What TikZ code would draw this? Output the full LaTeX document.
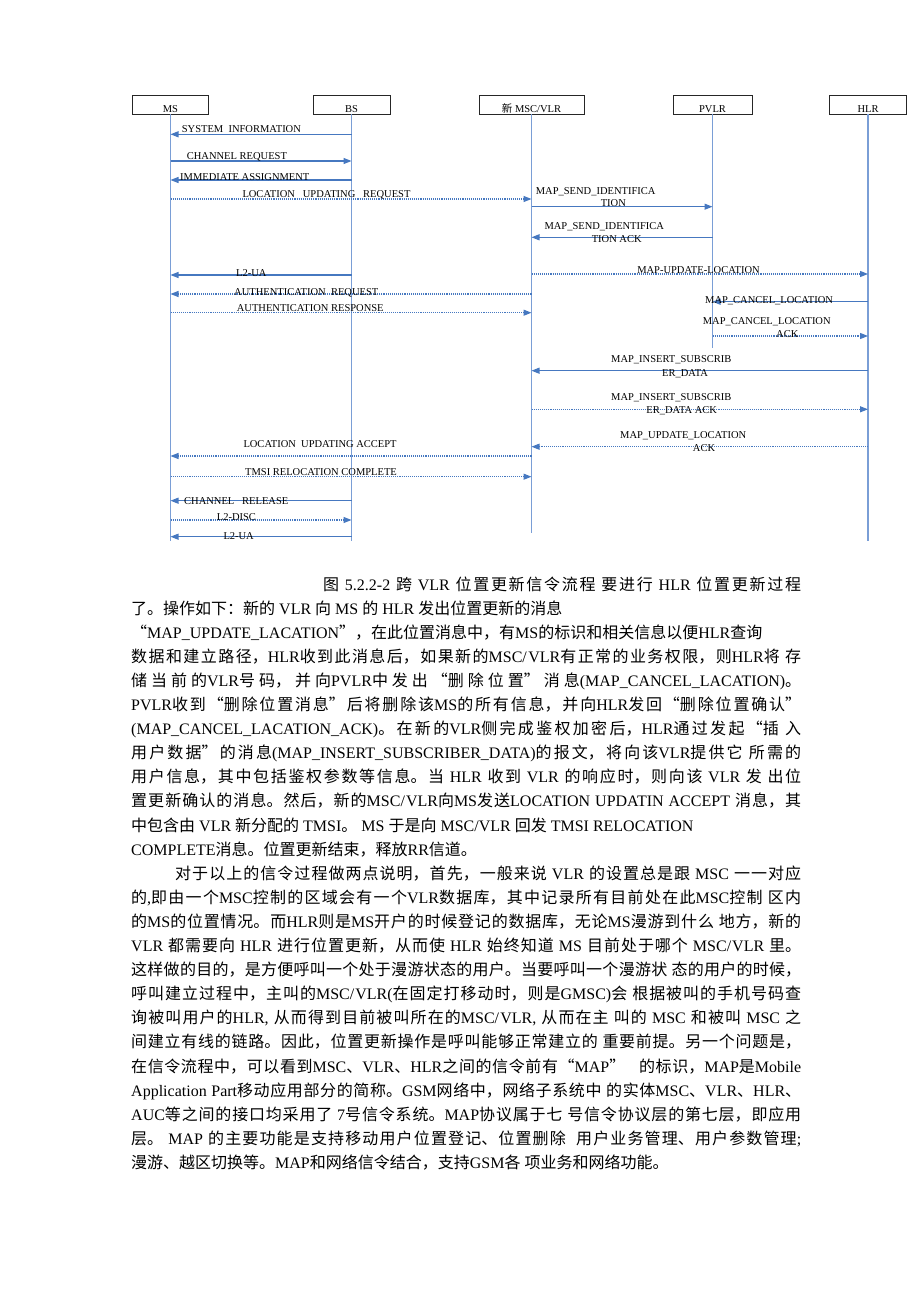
\documentclass[tikz,border=0pt]{standalone}
\usepackage{fontspec}
\setmainfont{Liberation Serif}
\newfontfamily\cjkfont{Noto Sans CJK SC}
\usepackage{tikz}
\usetikzlibrary{arrows.meta}
\usetikzlibrary{positioning}
\usetikzlibrary{calc}
\definecolor{msgline}{HTML}{4678C0}
\definecolor{lifeline}{HTML}{7A9ED6}

% Chinese characters are set in the CJK family
\XeTeXinterchartokenstate=1
\newXeTeXintercharclass\zhclass
\newcount\zhchar
\newcommand{\zhrange}[2]{%
  \zhchar=#1\relax
  \loop
    \XeTeXcharclass\zhchar=\zhclass
    \advance\zhchar by 1\relax
  \ifnum\zhchar<#2\relax\repeat}
\zhrange{"3000}{"3040}
\zhrange{"4E00}{"A000}
\zhrange{"FF00}{"FFF0}
\XeTeXcharclass"201C=\zhclass
\XeTeXcharclass"201D=\zhclass
\XeTeXinterchartoks 0 \zhclass = {\cjkfont}
\XeTeXinterchartoks 4095 \zhclass = {\cjkfont}
\XeTeXinterchartoks \zhclass 0 = {\rmfamily}
\XeTeXinterchartoks \zhclass 4095 = {\rmfamily}
\XeTeXlinebreaklocale "zh"
\XeTeXlinebreakskip=0pt plus 2pt
\tolerance=10000
\hbadness=10000

\begin{document}
\begin{tikzpicture}[x=1pt,y=-1pt,
  head/.style={
    draw=black!85, line width=0.7pt,
    text height=16pt, text depth=0pt,
    inner xsep=0pt, inner ysep=1.5pt,
    font=\fontsize{10.5}{12}\selectfont},
  life/.style={
    draw=lifeline, line width=1.2pt},
  msg/.style={
    draw=msgline, line width=1.1pt,
    -{Triangle[length=8pt,width=6pt]}},
  msgdot/.style={
    msg, densely dotted},
  lbl/.style={
    anchor=base west, inner sep=0pt,
    font=\fontsize{10.5}{12}\selectfont},
  lblc/.style={
    lbl, anchor=base},
  body/.style={
    anchor=base west, inner sep=0pt,
    text width=670pt, align=justify,
    font=\fontsize{16}{24.1}\selectfont},
]
  \useasboundingbox (0,0) rectangle (920,1302);

  \def\headrow{104.5}%

  % Entities
  \node[head, minimum width=76pt]  (ms)   at (170.5,\headrow) {MS};
  \node[head, minimum width=77pt]  (bs)   at (351.5,\headrow) {BS};
  \node[head, minimum width=105pt] (msc)  at (531.5,\headrow) {新 MSC/VLR};
  \node[head, minimum width=79pt]  (pvlr) at (712.5,\headrow) {PVLR};
  \node[head, minimum width=77pt]  (hlr)  at (868,\headrow) {HLR};

  % Lifelines
  \foreach \who/\stop in {ms/541,bs/541,msc/533,pvlr/348,hlr/541} {
    \coordinate (\who-end) at (\who.south |- 0,\stop);
    \draw[life] (\who.south) -- (\who-end);
  }

  % Messages
  \foreach \src/\dst/\yy/\kind in {
      bs/ms/134.3/msg, ms/bs/161/msg, bs/ms/180/msg, ms/msc/199/msgdot,
      msc/pvlr/206.7/msg, pvlr/msc/237.3/msg, msc/hlr/274/msgdot,
      bs/ms/275/msg, msc/ms/294/msgdot, ms/msc/312.7/msgdot,
      hlr/pvlr/301.7/msg, pvlr/hlr/336/msgdot, hlr/msc/370.7/msg,
      msc/hlr/409.3/msgdot, hlr/msc/446.7/msgdot, msc/ms/456/msgdot,
      ms/msc/476.7/msgdot, bs/ms/500.7/msg, ms/bs/520/msgdot,
      bs/ms/536.7/msg} {
    \draw[\kind] (\src |- 0,\yy) -- (\dst |- 0,\yy);
  }

  % Message labels
  \node[lbl] (sysinfo)  at (181.7,132.5) {SYSTEM\ \ INFORMATION};
  \node[lbl] (chreq)    at (186.7,159.2) {CHANNEL REQUEST};
  \node[lbl] (immass)   at (180,180.8)   {IMMEDIATE ASSIGNMENT};
  \node[lbl] (locreq)   at (242.3,197.5) {LOCATION\ \ \ UPDATING\ \ \ REQUEST};
  \node[lbl] (sendid)   at (535.7,194.2) {MAP\_SEND\_IDENTIFICA};
  \node[lblc] (sendidb) at (613.3,206.5) {TION};
  \node[lbl] (sendack)  at (544.3,229.2) {MAP\_SEND\_IDENTIFICA};
  \node[lblc] (sendackb) at (616.7,242.5) {TION ACK};
  \node[lblc] (updloc)  at (698.5,273.5) {MAP-UPDATE-LOCATION};
  \node[lbl] (ua)       at (236,276.5)   {L2-UA};
  \node[lbl] (authreq)  at (234,295.5)   {AUTHENTICATION\ \ REQUEST};
  \node[lbl] (authresp) at (236.7,311.8) {AUTHENTICATION RESPONSE};
  \node[lbl] (cancel)   at (705,303.5)   {MAP\_CANCEL\_LOCATION};
  \node[lbl] (cancack)  at (702.7,324.5) {MAP\_CANCEL\_LOCATION};
  \node[lblc] (cancackb) at (787.3,337.5) {ACK};
  \node[lbl] (insert)   at (611,362.8)   {MAP\_INSERT\_SUBSCRIB};
  \node[lblc] (insertb) at (685,376.2)   {ER\_DATA};
  \node[lbl] (insack)   at (611,400.5)   {MAP\_INSERT\_SUBSCRIB};
  \node[lblc] (insackb) at (681.7,413.5) {ER\_DATA ACK};
  \node[lbl] (updack)   at (620,438.8)   {MAP\_UPDATE\_LOCATION};
  \node[lblc] (updackb) at (704,451.8)   {ACK};
  \node[lbl] (locacc)   at (243.3,447.5) {LOCATION\ \ UPDATING ACCEPT};
  \node[lbl] (tmsi)     at (245,475.2)   {TMSI RELOCATION COMPLETE};
  \node[lbl] (chrel)    at (184,504.2)   {CHANNEL\ \ \ RELEASE};
  \node[lbl] (disc)     at (216.7,520.8) {L2-DISC};
  \node[lbl] (uaend)    at (223.3,539.2) {L2-UA};

  % Caption and text
  \node[body] (text) at (131,590) {%
\hspace*{192pt}图 5.2.2-2 跨 VLR 位置更新信令流程 要进行 HLR 位置更新过程\linebreak
了。操作如下：新的 VLR 向 MS 的 HLR 发出位置更新的消息\newline
“MAP\_UPDATE\_LACATION”，在此位置消息中，有MS的标识和相关信息以便HLR查询\newline
数据和建立路径，HLR收到此消息后，如果新的MSC/VLR有正常的业务权限，则HLR将 存\linebreak
储当前的VLR号码，并向PVLR中发出“删除位置”消息(MAP\_CANCEL\_LACATION)。\linebreak
PVLR收到“删除位置消息”后将删除该MS的所有信息，并向HLR发回“删除位置确认”\linebreak
(MAP\_CANCEL\_LACATION\_ACK)。在新的VLR侧完成鉴权加密后，HLR通过发起“插 入\linebreak
用户数据”的消息(MAP\_INSERT\_SUBSCRIBER\_DATA)的报文，将向该VLR提供它 所需的\linebreak
用户信息，其中包括鉴权参数等信息。当 HLR 收到 VLR 的响应时，则向该 VLR 发 出位\linebreak
置更新确认的消息。然后，新的MSC/VLR向MS发送LOCATION UPDATIN ACCEPT 消息，其\linebreak
中包含由 VLR 新分配的 TMSI。 MS 于是向 MSC/VLR 回发 TMSI RELOCATION\newline
COMPLETE消息。位置更新结束，释放RR信道。\newline
\hspace*{44pt}对于以上的信令过程做两点说明，首先，一般来说 VLR 的设置总是跟 MSC 一一对应\linebreak
的,即由一个MSC控制的区域会有一个VLR数据库，其中记录所有目前处在此MSC控制 区内\linebreak
的MS的位置情况。而HLR则是MS开户的时候登记的数据库，无论MS漫游到什么 地方，新的\linebreak
VLR 都需要向 HLR 进行位置更新，从而使 HLR 始终知道 MS 目前处于哪个 MSC/VLR 里。\linebreak
这样做的目的，是方便呼叫一个处于漫游状态的用户。当要呼叫一个漫游状 态的用户的时候，\linebreak
呼叫建立过程中，主叫的MSC/VLR(在固定打移动时，则是GMSC)会 根据被叫的手机号码查\linebreak
询被叫用户的HLR, 从而得到目前被叫所在的MSC/VLR, 从而在主 叫的 MSC 和被叫 MSC 之\linebreak
间建立有线的链路。因此，位置更新操作是呼叫能够正常建立的 重要前提。另一个问题是，\linebreak
在信令流程中，可以看到MSC、VLR、HLR之间的信令前有“MAP”\ \ \ 的标识，MAP是Mobile\linebreak
Application Part移动应用部分的简称。GSM网络中，网络子系统中 的实体MSC、VLR、HLR、\linebreak
AUC等之间的接口均采用了 7号信令系统。MAP协议属于七 号信令协议层的第七层，即应用\linebreak
层。 MAP 的主要功能是支持移动用户位置登记、位置删除\ \ 用户业务管理、用户参数管理;\linebreak
漫游、越区切换等。MAP和网络信令结合，支持GSM各 项业务和网络功能。};

\end{tikzpicture}
\end{document}
